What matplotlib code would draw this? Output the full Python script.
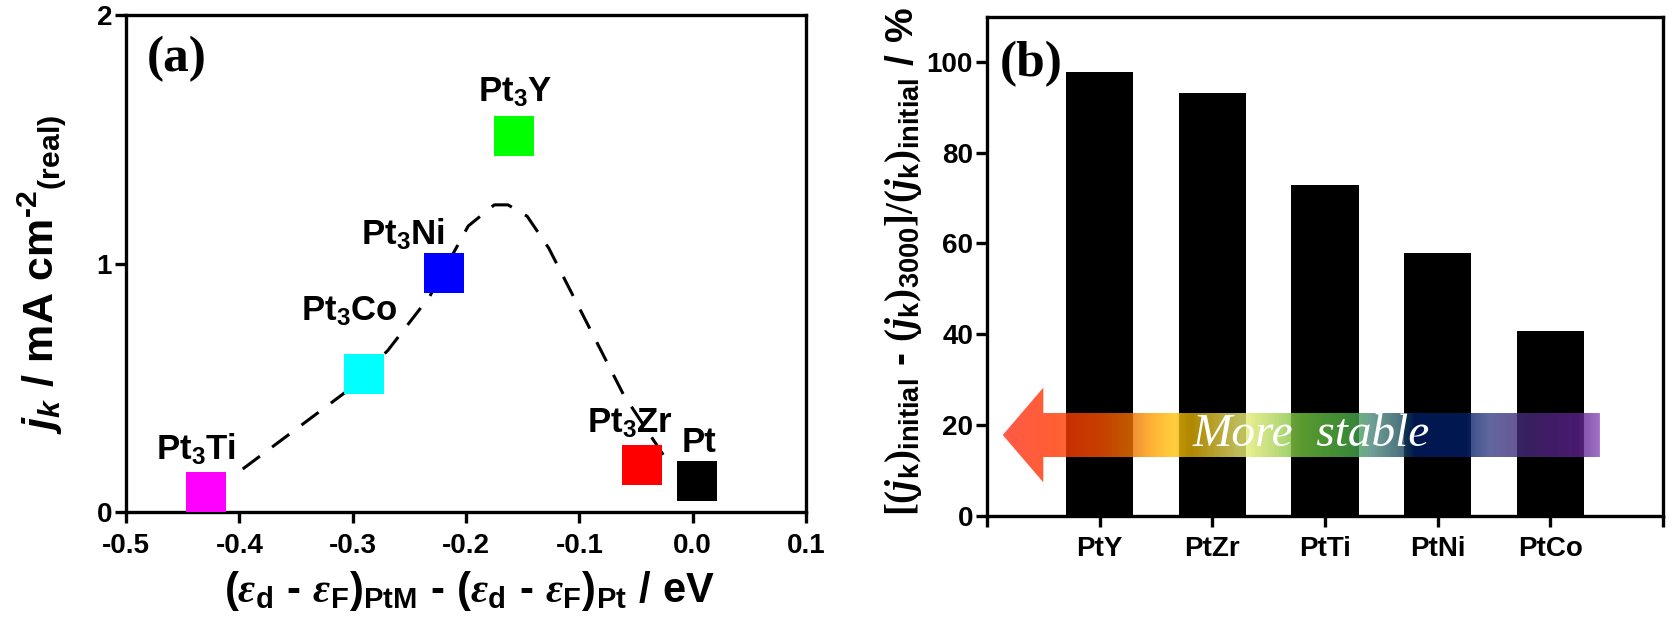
import numpy as np
import matplotlib
matplotlib.use('Agg')
import matplotlib.pyplot as plt
from matplotlib.patches import Polygon
from matplotlib.colors import LinearSegmentedColormap

# ---------------- data ----------------
# Panel (a): d-band centre shift vs kinetic current density
alloy_labels = ['Pt$_3$Ti', 'Pt$_3$Co', 'Pt$_3$Ni', 'Pt$_3$Y', 'Pt$_3$Zr', 'Pt']
d_band_shift = [-0.429, -0.290, -0.219, -0.158, -0.045, 0.004]
jk_real = [0.08, 0.557, 0.961, 1.515, 0.19, 0.123]
marker_colors = ['#ff00ff', '#00ffff', '#0000ff', '#00ff00', '#ff0000', '#000000']
label_x = [-0.438, -0.303, -0.256, -0.157, -0.0555, 0.006]
label_y = [0.212, 0.77, 1.078, 1.653, 0.319, 0.24]
trend_x = [-0.397, -0.307, -0.269, -0.232, -0.198, -0.175, -0.163, -0.146, -0.127, -0.061, -0.026]
trend_y = [0.173, 0.48, 0.65, 0.868, 1.151, 1.236, 1.236, 1.19, 1.062, 0.472, 0.23]
xticks_a = [-0.5, -0.4, -0.3, -0.2, -0.1, 0.0, 0.1]
yticks_a = [0, 1, 2]

# Panel (b): activity loss after 3000 cycles
catalysts = ['PtY', 'PtZr', 'PtTi', 'PtNi', 'PtCo']
activity_loss = [97.8, 93.2, 72.9, 57.8, 40.7]
yticks_b = [0, 20, 40, 60, 80, 100]

# ---------------- style ----------------
plt.rcParams['font.family'] = ['Liberation Sans', 'DejaVu Sans']
plt.rcParams['font.weight'] = 'bold'
plt.rcParams['axes.unicode_minus'] = False
plt.rcParams['mathtext.fontset'] = 'custom'
plt.rcParams['mathtext.rm'] = 'Liberation Sans:bold'
plt.rcParams['mathtext.it'] = 'Liberation Sans:italic:bold'
plt.rcParams['mathtext.bf'] = 'Liberation Serif:bold'
plt.rcParams['mathtext.cal'] = 'Liberation Serif:italic:bold'
plt.rcParams['mathtext.tt'] = 'Liberation Serif:italic'
plt.rcParams['mathtext.sf'] = 'Liberation Sans:bold'

W, H = 1678, 631
fig = plt.figure(figsize=(W / 100, H / 100), dpi=100)

def px_axes(l, r, t, b):
    return fig.add_axes([l / W, 1 - b / H, (r - l) / W, (b - t) / H])

spine_lw = 2.4
tick_fs = 20
HY = '\u2010'  # short hyphen as in the original

# ---------------- panel (a) ----------------
ax = px_axes(126, 806, 15, 512)
ax.plot(trend_x, trend_y, color='black', lw=2.2, dashes=(7, 5), zorder=2)
for x, y, c in zip(d_band_shift, jk_real, marker_colors):
    ax.plot([x], [y], marker='s', ms=28.8, mfc=c, mec=c, mew=0, ls='none', zorder=3)
for t, x, y in zip(alloy_labels, label_x, label_y):
    ax.text(x, y, t, ha='center', va='baseline', fontsize=25, fontweight='bold', zorder=1)
ax.set_xlim(-0.5, 0.1)
ax.set_ylim(0, 2)
ax.set_xticks(xticks_a)
ax.set_xticklabels([f'{v:.1f}' for v in xticks_a])
ax.set_yticks(yticks_a)
ax.set_yticklabels([str(v) for v in yticks_a])
ax.tick_params(direction='out', length=8, width=spine_lw, labelsize=tick_fs, pad=7)
ax.tick_params(axis='y', pad=2)
for s in ax.spines.values():
    s.set_linewidth(spine_lw)
ax.text(0.031, 0.912, '(a)', transform=ax.transAxes, ha='left', va='center',
        fontsize=37, fontweight='bold', family='Liberation Serif')

fig.text(470 / W, 1 - 591 / H,
         r'$\mathrm{(}\mathtt{ε}_\mathrm{d}\ \mathrm{' + HY + r'}\ \mathtt{ε}_\mathrm{F}\mathrm{)}_\mathrm{PtM}'
         r'\ \mathrm{' + HY + r'}\ \mathrm{(}\mathtt{ε}_\mathrm{d}\ \mathrm{' + HY + r'}\ \mathtt{ε}_\mathrm{F}\mathrm{)}_\mathrm{Pt}'
         r'\ \mathrm{/\ eV}$',
         ha='center', va='center', fontsize=30)
fig.text(42 / W, 1 - 274 / H,
         r'$j_k\ \mathrm{/\ mA\ cm}^{\mathrm{' + HY + r'2}}{}_{\mathrm{(real)}}$',
         rotation=90, ha='center', va='center', fontsize=31)

# ---------------- panel (b) ----------------
bx = px_axes(987, 1663, 16.7, 515.5)
pos = np.arange(1, len(catalysts) + 1)
bx.bar(pos, activity_loss, width=0.6, color='black', zorder=1)
bx.set_xticks(np.arange(0, len(catalysts) + 2))
bx.set_xticklabels([''] + catalysts + [''])
bx.set_yticks(yticks_b)
bx.set_yticklabels([str(v) for v in yticks_b])
bx.tick_params(direction='out', length=8, width=spine_lw, labelsize=tick_fs, pad=7)
bx.tick_params(axis='y', pad=2)
for s in bx.spines.values():
    s.set_linewidth(spine_lw)
bx.text(0.019, 0.905, '(b)', transform=bx.transAxes, ha='left', va='center',
        fontsize=37, fontweight='bold', family='Liberation Serif')

# gradient arrow "More stable"
arrow_tip_x, arrow_head_x, arrow_end_x = 0.14, 0.50, 5.44
shaft_lo, shaft_hi, head_lo, head_hi = 12.9, 22.6, 7.3, 28.2
arrow_mid = (shaft_lo + shaft_hi) / 2
arrow_poly = Polygon([(arrow_tip_x, arrow_mid), (arrow_head_x, head_hi), (arrow_head_x, shaft_hi),
                      (arrow_end_x, shaft_hi), (arrow_end_x, shaft_lo), (arrow_head_x, shaft_lo),
                      (arrow_head_x, head_lo)], closed=True, facecolor='none', edgecolor='none',
                     transform=bx.transData)
bx.add_patch(arrow_poly)
grad_stops = [
    (0.14, (255, 49, 24)), (0.6, (255, 55, 0)), (1.0, (250, 80, 0)), (1.3, (240, 120, 0)),
    (1.45, (255, 160, 0)), (1.65, (255, 196, 13)), (1.8, (220, 170, 0)), (2.25, (240, 240, 120)),
    (2.5, (186, 216, 96)), (2.8, (112, 192, 60)), (3.25, (72, 172, 72)), (3.4, (76, 136, 124)),
    (3.65, (36, 86, 99)), (3.8, (0, 30, 100)), (4.25, (0, 30, 100)), (4.45, (56, 66, 136)),
    (4.8, (72, 40, 120)), (5.25, (92, 32, 140)), (5.44, (136, 76, 186)),
]
span = arrow_end_x - arrow_tip_x
cmap = LinearSegmentedColormap.from_list(
    'stable', [((x - arrow_tip_x) / span, tuple(v / 255 for v in c)) for x, c in grad_stops])
grad = np.linspace(0, 1, 600).reshape(1, -1)
im = bx.imshow(grad, cmap=cmap, extent=[arrow_tip_x, arrow_end_x, head_lo, head_hi],
               aspect='auto', alpha=0.8, zorder=2, interpolation='bilinear')
im.set_clip_path(arrow_poly)
bx.text(2.88, arrow_mid, 'More  stable', ha='center', va='center', color='white',
        fontsize=34, style='italic', fontweight='normal', family='Liberation Serif', zorder=3)
bx.set_xlim(0, len(catalysts) + 1)
bx.set_ylim(0, 110)

fig.text(903 / W, 1 - 262 / H,
         r'$\mathbf{[(}\mathcal{j}_\mathrm{k}\mathbf{)}_\mathrm{initial}\ \mathrm{' + HY + r'}\ '
         r'\mathbf{(}\mathcal{j}_\mathrm{k}\mathbf{)}_\mathrm{3000}\mathbf{]/(}\mathcal{j}_\mathrm{k}'
         r'\mathbf{)}_\mathrm{initial}\ \mathrm{/\ \%}$',
         rotation=90, ha='center', va='center', fontsize=28)

fig.savefig('out.png', dpi=100)
